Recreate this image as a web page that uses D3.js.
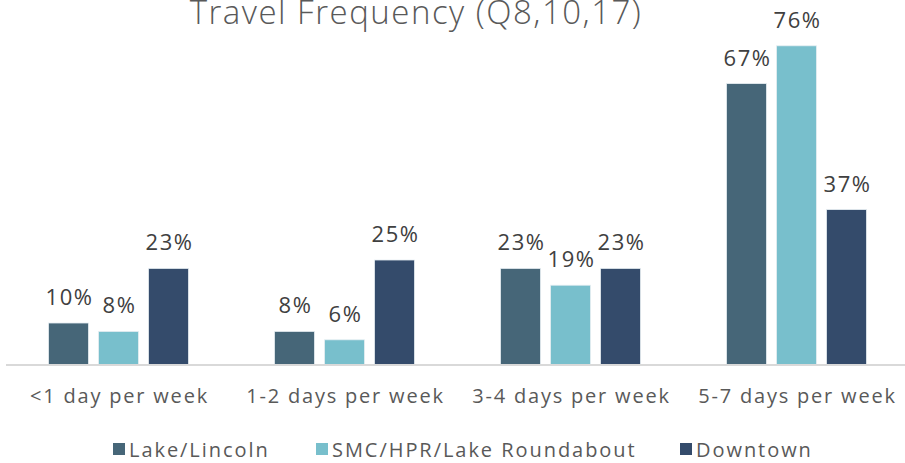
<!DOCTYPE html>
<html>
<head>
<meta charset="utf-8">
<script src="https://cdn.jsdelivr.net/npm/d3@7/dist/d3.min.js"></script>
<style>
  body { margin: 0; background: #fff; }
  text { font-family: "Open Sans", sans-serif; }
</style>
</head>
<body>
<svg width="905" height="463"></svg>
<script>
var categories = ['<1 day per week', '1-2 days per week', '3-4 days per week', '5-7 days per week'];
var seriesNames = ['Lake/Lincoln', 'SMC/HPR/Lake Roundabout', 'Downtown'];
var lakeLincoln = [10, 8, 23, 67];
var smcHpr = [8, 6, 19, 76];
var downtown = [23, 25, 23, 37];
var colors = ['#466678', '#78bfcc', '#344b6b'];

var values = [lakeLincoln, smcHpr, downtown];
var svg = d3.select('svg');

var baseY = 365;
var x0 = d3.scaleBand().domain(categories).range([5.5, 909.5]);
var x1 = d3.scaleBand().domain(seriesNames).range([0, x0.bandwidth()])
           .paddingInner(0.2).paddingOuter(0.86);
var y = d3.scaleLinear().domain([0, 80]).range([baseY, baseY - 336]);

// title
svg.append('text')
   .attr('x', 416).attr('y', 24)
   .attr('text-anchor', 'middle')
   .style('font-size', '33px').style('font-weight', 300)
   .style('letter-spacing', '1.5px')
   .style('fill', '#595959')
   .text('Travel Frequency (Q8,10,17)');

// bars
categories.forEach(function(cat, i){
  var g = svg.append('g').attr('transform', 'translate(' + x0(cat) + ',0)');
  seriesNames.forEach(function(s, j){
    var v = values[j][i];
    g.append('rect')
     .attr('x', x1(s)).attr('y', y(v))
     .attr('width', x1.bandwidth()).attr('height', baseY - y(v))
     .style('fill', colors[j]).style('stroke', '#e6eef2').style('stroke-width', 0.8);
    g.append('text')
     .attr('x', x1(s) + x1.bandwidth() / 2 + 1).attr('y', y(v) - 18)
     .attr('text-anchor', 'middle')
     .style('font-size', '22px').style('fill', '#404040')
     .style('letter-spacing', '1.5px')
     .text(v + '%');
  });
});

// x axis
var axis = svg.append('g').attr('transform', 'translate(0,' + baseY + ')')
  .call(d3.axisBottom(x0).tickSize(0).tickPadding(24));
axis.select('.domain').attr('d', 'M6,0H905').style('stroke', '#d9d9d9').style('stroke-width', 2);
axis.selectAll('text').style('font-size', '20px').style('fill', '#595959')
    .style('letter-spacing', '1.8px').attr('dx', '1')
    .style('font-family', '"Open Sans", sans-serif');

// legend
var legX = [113, 316, 680];
seriesNames.forEach(function(s, j){
  var lg = svg.append('g').attr('transform', 'translate(' + legX[j] + ',443)');
  lg.append('rect').attr('width', 12).attr('height', 12).style('fill', colors[j]);
  lg.append('text').attr('x', 16).attr('y', 14)
    .style('font-size', '20px').style('fill', '#595959')
    .style('letter-spacing', '1.95px').text(s);
});
</script>
</body>
</html>
